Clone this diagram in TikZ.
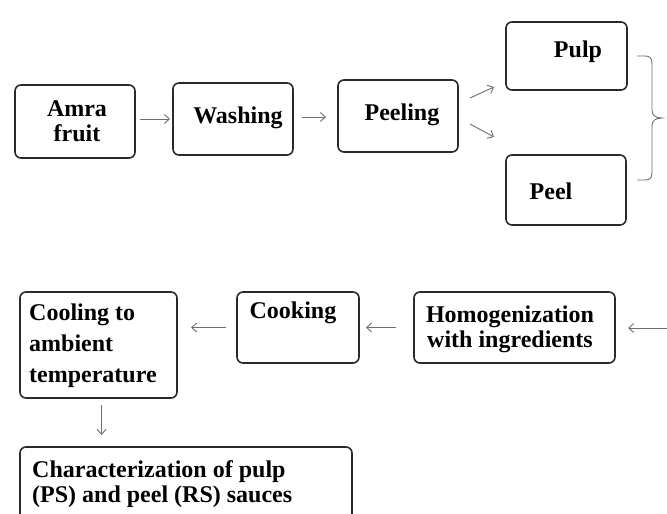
\documentclass[tikz,border=0pt]{standalone}
\usepackage{fontspec}
\setmainfont{Liberation Serif}
\usetikzlibrary{arrows.meta}
\definecolor{boxline}{HTML}{2A2A2A}
\definecolor{arrgray}{HTML}{6E6E6E}
\begin{document}
\begin{tikzpicture}[x=1pt,y=-1pt,
  box/.style={draw=boxline, line width=1.6pt, rounded corners=6pt, inner sep=0pt, outer sep=0pt, fill=none},
  txt/.style={inner sep=0pt, font=\fontsize{24}{25}\selectfont\bfseries, text=black},
  arr/.style={draw=arrgray, line width=0.9pt, -{Straight Barb[length=5pt,width=9pt]}},
  brace/.style={draw=arrgray, line width=0.9pt}]
\useasboundingbox (0,0) rectangle (667,514);
\clip (0,0) rectangle (667,514);
% boxes
\node[box, minimum width=120pt, minimum height=73pt] (amra) at (75,121.5) {};
\node[box, minimum width=120pt, minimum height=72pt] (wash) at (233,119) {};
\node[box, minimum width=120pt, minimum height=72pt] (peeling) at (398,116) {};
\node[box, minimum width=121pt, minimum height=68pt] (pulp) at (566.5,56) {};
\node[box, minimum width=120pt, minimum height=70pt] (peel) at (566,190) {};
\node[box, minimum width=157pt, minimum height=106pt] (cool) at (98.5,345) {};
\node[box, minimum width=122pt, minimum height=71pt] (cook) at (298,327.5) {};
\node[box, minimum width=201pt, minimum height=71pt] (homog) at (514.5,327.5) {};
\node[box, minimum width=332pt, minimum height=88pt] (char) at (186,491) {};
% texts
\node[txt, align=center] (tamra) at (77,121) {Amra\\fruit};
\node[txt] (twash) at (238,118) {Washing};
\node[txt] (tpeeling) at (402,115) {Peeling};
\node[txt] (tpulp) at (578,52) {Pulp};
\node[txt] (tpeel) at (551,191) {Peel};
\node[txt, align=left, anchor=west, font=\fontsize{24}{31}\selectfont\bfseries] (tcool) at (29,346) {Cooling to\\ambient\\temperature};
\node[txt] (tcook) at (293,313) {Cooking};
\node[txt, align=center] (thomog) at (510,329.5) {Homogenization\\with ingredients};
\node[txt, align=left, anchor=west] (tchar) at (32,484.5) {Characterization of pulp\\(PS) and peel (RS) sauces};
% connectors
\draw[arr, shorten <=5pt, shorten >=3pt] (amra.east|-wash.west) -- (wash.west);
\draw[arr, shorten <=9pt, shorten >=12pt] ([yshift=2pt]wash.east) -- ([yshift=2pt]wash.east -| peeling.west);
\draw[arr] ([shift={(12,-18)}]peeling.east) -- ([shift={(36,-29)}]peeling.east);
\draw[arr] ([shift={(12,8)}]peeling.east) -- ([shift={(36,21)}]peeling.east);
\coordinate (inR) at (680,328);
\draw[arr, shorten >=13pt] (inR) -- (inR -| homog.east);
\draw[arr, shorten <=18pt, shorten >=7pt] (homog.west) -- (homog.west -| cook.east);
\draw[arr, shorten <=11pt, shorten >=14pt] (cook.west) -- (cook.west -| cool.east);
\draw[arr, shorten <=7pt, shorten >=12pt] ([xshift=3pt]cool.south) -- ([xshift=3pt]cool.south |- char.north);
% brace
\draw[brace] (637,56) -- (645,56) .. controls (650,56) and (652,58) .. (652,64) -- (652,110)
  .. controls (652,115) and (655,118) .. (662,118)
  .. controls (655,118) and (652,121) .. (652,126) -- (652,172)
  .. controls (652,178) and (650,180) .. (645,180) -- (637,180);
\end{tikzpicture}
\end{document}
